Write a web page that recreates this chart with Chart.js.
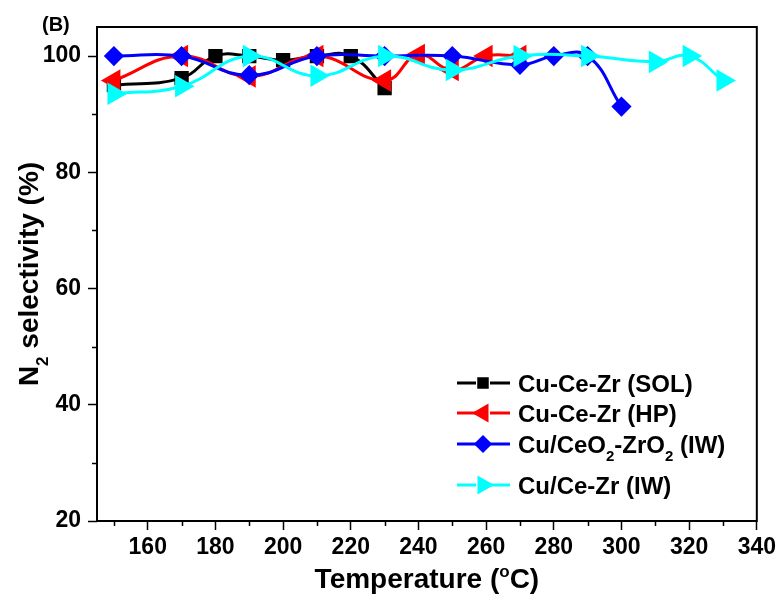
<!DOCTYPE html>
<html>
<head>
<meta charset="utf-8">
<script src="https://cdn.jsdelivr.net/npm/chart.js@4.4.1/dist/chart.umd.min.js"></script>
<style>
  html, body { margin: 0; padding: 0; background: #fff; }
  #wrap { width: 780px; height: 598px; position: relative; }
</style>
</head>
<body>
<div id="wrap"><canvas id="chart" width="780" height="598"></canvas></div>
<script>
// data
const solTemps = [150, 170, 180, 190, 200, 210, 220, 230];
const solValues = [95, 96.2, 100, 100, 99.3, 100, 100, 94.5];

const hpTemps = [150, 170, 190, 210, 230, 240, 250, 260, 270];
const hpValues = [95.8, 100, 96.5, 100, 95.8, 100.2, 97.6, 100, 100];

const iwTemps = [150, 170, 190, 210, 230, 250, 270, 280, 290, 300];
const iwValues = [100, 100, 96.7, 100, 100, 100, 98.5, 100, 100, 91.3];

const ceZrTemps = [150, 170, 190, 210, 230, 250, 270, 290, 310, 320, 330];
const ceZrValues = [93.5, 94.8, 100, 96.6, 100, 97.6, 100, 100, 99, 100, 95.8];

const xTickLabels = [160, 180, 200, 220, 240, 260, 280, 300, 320, 340];
const xMinorTicks = [150, 170, 190, 210, 230, 250, 270, 290, 310, 330];
const yTickLabels = [20, 40, 60, 80, 100];
const yMinorTicks = [30, 50, 70, 90];

const FONT = "'Liberation Sans', Arial, sans-serif";

function toPoints(xs, ys) {
  return xs.map((x, i) => ({ x: x, y: ys[i] }));
}

// legend rows (text split so subscripts can be drawn)
const legendRows = [
  { color: '#000000', style: 'rect', radius: 6, rotation: 0, y: 383, parts: [['Cu-Ce-Zr (SOL)', 0]] },
  { color: '#ff0000', style: 'triangle', radius: 8, rotation: -90, y: 413, parts: [['Cu-Ce-Zr (HP)', 0]] },
  { color: '#0000ff', style: 'rectRot', radius: 7, rotation: 0, y: 444, parts: [['Cu/CeO', 0], ['2', 1], ['-ZrO', 0], ['2', 1], [' (IW)', 0]] },
  { color: '#00ffff', style: 'triangle', radius: 8, rotation: 90, y: 485, parts: [['Cu/Ce-Zr (IW)', 0]] }
];

function drawParts(ctx, parts, x, y, size) {
  let cx = x;
  parts.forEach(p => {
    if (p[1] === 1) {
      ctx.font = 'bold ' + Math.round(size * 0.62) + 'px ' + FONT;
      ctx.fillText(p[0], cx, y + size * 0.35);
    } else if (p[1] === 2) {
      ctx.font = 'bold ' + Math.round(size * 0.62) + 'px ' + FONT;
      ctx.fillText(p[0], cx, y - size * 0.4);
    } else {
      ctx.font = 'bold ' + size + 'px ' + FONT;
      ctx.fillText(p[0], cx, y);
    }
    cx += ctx.measureText(p[0]).width;
  });
  return cx - x;
}

function measureParts(ctx, parts, size) {
  let w = 0;
  parts.forEach(p => {
    ctx.font = 'bold ' + (p[1] ? Math.round(size * 0.62) : size) + 'px ' + FONT;
    w += ctx.measureText(p[0]).width;
  });
  return w;
}

const decorations = {
  id: 'decorations',
  afterDraw(chart) {
    const ctx = chart.ctx;
    const area = chart.chartArea;
    const xs = chart.scales.x;
    const ys = chart.scales.y;
    ctx.save();

    // frame
    ctx.strokeStyle = '#000';
    ctx.lineWidth = 2;
    ctx.strokeRect(area.left, area.top, area.right - area.left, area.bottom - area.top);

    // minor ticks
    ctx.lineWidth = 1.5;
    ctx.beginPath();
    xMinorTicks.forEach(v => {
      const px = Math.round(xs.getPixelForValue(v)) + 0.5;
      ctx.moveTo(px, area.bottom);
      ctx.lineTo(px, area.bottom + 5);
    });
    yMinorTicks.forEach(v => {
      const py = Math.round(ys.getPixelForValue(v)) + 0.5;
      ctx.moveTo(area.left, py);
      ctx.lineTo(area.left - 5, py);
    });
    ctx.stroke();

    ctx.fillStyle = '#000';
    ctx.textBaseline = 'alphabetic';
    ctx.textAlign = 'left';

    // panel label
    ctx.font = 'bold 20px ' + FONT;
    ctx.fillText('(B)', 42, 31);

    // x title
    const xParts = [['Temperature (', 0], ['o', 2], ['C)', 0]];
    const xSize = 28;
    const xw = measureParts(ctx, xParts, xSize);
    drawParts(ctx, xParts, (area.left + area.right) / 2 - xw / 2, 588, xSize);

    // y title
    const yParts = [['N', 0], ['2', 1], [' selectivity (%)', 0]];
    const ySize = 28;
    const yw = measureParts(ctx, yParts, ySize);
    ctx.save();
    ctx.translate(38, (area.top + area.bottom) / 2);
    ctx.rotate(-Math.PI / 2);
    drawParts(ctx, yParts, -yw / 2, 0, ySize);
    ctx.restore();

    // legend
    legendRows.forEach(r => {
      ctx.strokeStyle = r.color;
      ctx.lineWidth = 3;
      ctx.beginPath();
      ctx.moveTo(457, r.y);
      ctx.lineTo(476, r.y);
      ctx.moveTo(490, r.y);
      ctx.lineTo(510, r.y);
      ctx.stroke();
      ctx.fillStyle = r.color;
      Chart.helpers.drawPoint(ctx, {
        pointStyle: r.style, radius: r.radius, rotation: r.rotation, borderWidth: 1
      }, 483, r.y);
      ctx.fillStyle = '#000';
      drawParts(ctx, r.parts, 518, r.y + 8.5, 24);
    });

    ctx.restore();
  }
};

function series(label, xs, ys, color, style, radius, rotation, order) {
  return {
    label: label,
    data: toPoints(xs, ys),
    borderColor: color,
    backgroundColor: color,
    pointBackgroundColor: color,
    pointBorderColor: color,
    pointStyle: style,
    pointRadius: radius,
    pointRotation: rotation,
    borderWidth: 3,
    tension: 0.45,
    order: order
  };
}

new Chart(document.getElementById('chart'), {
  type: 'line',
  data: {
    datasets: [
      series('Cu-Ce-Zr (SOL)', solTemps, solValues, '#000000', 'rect', 8, 0, 3),
      series('Cu-Ce-Zr (HP)', hpTemps, hpValues, '#ff0000', 'triangle', 10, -90, 2),
      series('Cu/CeO2-ZrO2 (IW)', iwTemps, iwValues, '#0000ff', 'rectRot', 8, 0, 1),
      series('Cu/Ce-Zr (IW)', ceZrTemps, ceZrValues, '#00ffff', 'triangle', 10, 90, 0)
    ]
  },
  options: {
    responsive: false,
    animation: false,
    clip: false,
    layout: { padding: { left: 0, top: 27, right: 22, bottom: 0 } },
    plugins: {
      legend: { display: false },
      tooltip: { enabled: false },
      title: { display: false }
    },
    scales: {
      x: {
        type: 'linear',
        min: 145,
        max: 340,
        afterBuildTicks: s => { s.ticks = xTickLabels.map(v => ({ value: v })); },
        afterFit: s => { s.height = 77; },
        grid: { drawOnChartArea: false, tickLength: 9, tickWidth: 1.5, color: '#000' },
        border: { display: false },
        ticks: {
          color: '#000',
          font: { family: FONT, size: 23, weight: 'bold' },
          padding: 4,
          maxRotation: 0
        }
      },
      y: {
        min: 20,
        max: 105,
        afterBuildTicks: s => { s.ticks = yTickLabels.map(v => ({ value: v })); },
        afterFit: s => { s.width = 97; },
        grid: { drawOnChartArea: false, tickLength: 9, tickWidth: 1.5, color: '#000' },
        border: { display: false },
        ticks: {
          color: '#000',
          font: { family: FONT, size: 23, weight: 'bold' },
          padding: 7
        }
      }
    }
  },
  plugins: [decorations]
});
</script>
</body>
</html>
